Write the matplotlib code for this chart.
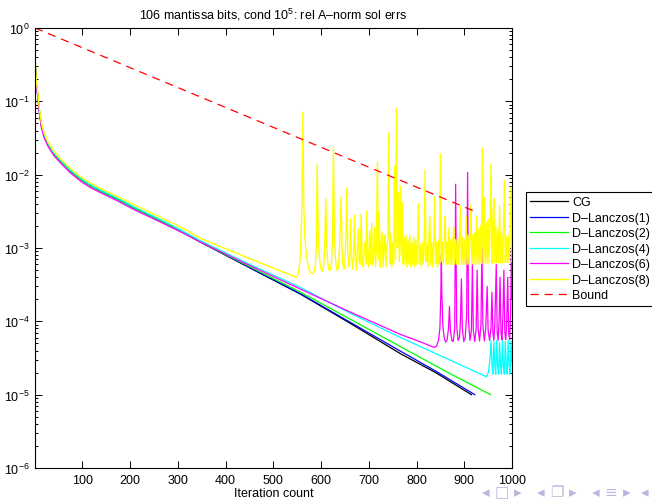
import matplotlib
matplotlib.use("Agg")
import matplotlib.pyplot as plt
from matplotlib.ticker import FixedLocator, NullFormatter, LogFormatterSciNotation

plt.rcParams['font.family'] = ['Liberation Sans', 'DejaVu Sans']
plt.rcParams['mathtext.fontset'] = 'custom'
plt.rcParams['mathtext.rm'] = 'Liberation Sans'
plt.rcParams['mathtext.it'] = 'Liberation Sans'
plt.rcParams['axes.linewidth'] = 0.8

# ---------------- data ----------------
early_it = [1, 2, 4, 7, 10, 14, 20, 28, 40, 56, 75, 98, 120, 140, 175, 209, 245, 279, 315, 348]
early_cg = [0.45, 0.28, 0.166, 0.12, 0.076, 0.048, 0.034, 0.026, 0.0195, 0.015, 0.0112,
            8.5e-3, 6.9e-3, 5.9e-3, 4.6e-3, 3.5e-3, 2.7e-3, 2.1e-3, 1.58e-3, 1.2e-3]
early_l4 = [0.42, 0.27, 0.165, 0.118, 0.077, 0.049, 0.035, 0.0267, 0.0201, 0.0154, 0.0116,
            8.8e-3, 7.1e-3, 6.1e-3, 4.75e-3, 3.62e-3, 2.8e-3, 2.18e-3, 1.64e-3, 1.25e-3]
early_l6 = [0.40, 0.26, 0.155, 0.112, 0.071, 0.045, 0.032, 0.0245, 0.0184, 0.0141, 0.0106,
            8.0e-3, 6.5e-3, 5.6e-3, 4.35e-3, 3.32e-3, 2.58e-3, 2.02e-3, 1.55e-3, 1.2e-3]
early_l8 = [0.50, 0.31, 0.18, 0.13, 0.083, 0.052, 0.037, 0.028, 0.021, 0.016, 0.0122,
            9.2e-3, 7.5e-3, 6.4e-3, 5.0e-3, 3.9e-3, 3.0e-3, 2.35e-3, 1.8e-3, 1.35e-3]

cg_it = early_it + [450, 557, 660, 767, 840, 915]
cg_err = early_cg + [5.4e-4, 2.35e-4, 9.5e-5, 3.6e-5, 2.0e-5, 1.0e-5]

l1_it = early_it + [450, 557, 660, 767, 840, 922]
l1_err = early_cg + [5.45e-4, 2.38e-4, 9.8e-5, 3.9e-5, 2.1e-5, 1.0e-5]

l2_it = early_it + [450, 557, 660, 767, 860, 955]
l2_err = early_cg + [5.6e-4, 2.5e-4, 1.08e-4, 4.5e-5, 2.1e-5, 1.0e-5]

l4_it = early_it + [450, 557, 660, 767, 947,
                    951, 954, 956, 958, 960, 962, 964, 966, 968, 970, 972, 974, 976,
                    978, 980, 982, 984, 986, 988, 990, 992, 994, 996, 998, 1000]
l4_err = early_l4 + [6.0e-4, 2.9e-4, 1.3e-4, 6.0e-5, 1.75e-5,
                     2.1e-5, 3.2e-5, 5.5e-5, 2.6e-5, 1.9e-5, 5.3e-5, 2.5e-5, 1.9e-5, 5.5e-5,
                     2.5e-5, 1.9e-5, 5.2e-5, 2.5e-5, 1.9e-5, 5.5e-5, 2.5e-5, 1.9e-5, 5.3e-5,
                     2.5e-5, 1.9e-5, 5.5e-5, 2.5e-5, 1.9e-5, 5.4e-5, 2.5e-5]

l6_it = early_it + [450, 557, 660, 767, 800, 830, 837,
                    842, 846, 849, 851, 852, 853, 855, 858, 861, 864, 867, 869, 871, 874,
                    877, 880, 882, 884, 887, 890, 892, 894, 896, 899, 902, 905, 907, 909,
                    912, 915, 917, 919, 922, 925, 927, 929, 932, 935, 937, 939, 942, 945,
                    948, 950, 953, 956, 958, 960, 962, 964, 967, 969, 971, 973, 975, 977,
                    979, 981, 983, 985, 987, 989, 991, 993, 995, 997, 999, 1000]
l6_err = early_l6 + [
    5.8e-4, 2.75e-4, 1.35e-4, 6.6e-5, 5.5e-5, 4.6e-5, 4.4e-5,
    4.6e-5, 5.5e-5, 8e-5, 2.5e-4, 8e-4, 2.5e-4, 9e-5, 6e-5, 5.2e-5, 5.5e-5, 8e-5, 1.6e-4,
    7.5e-5, 5.5e-5, 5.3e-5, 8e-5, 7.4e-3, 9e-5, 5.5e-5, 6e-5, 1e-4, 3.8e-4, 8e-5, 5.3e-5,
    6e-5, 1.2e-4, 1.07e-2, 1e-4, 5.5e-5, 7.5e-5, 6e-4, 7.5e-5, 5.3e-5, 8e-5, 5e-4, 8e-5,
    5.4e-5, 9e-5, 1e-3, 9e-5, 5.4e-5, 8e-5, 3e-4, 7.5e-5, 5.5e-5, 8e-5, 2.5e-4, 7e-5,
    5.5e-5, 9e-5, 6e-4, 7e-5, 5.5e-5, 1e-4, 4e-4, 7e-5, 5.6e-5, 1.2e-4, 5e-4, 7e-5,
    5.6e-5, 1e-4, 4e-4, 7e-5, 5.6e-5, 1.2e-4, 1.0e-3, 2e-4]

l8_tail_it = list(range(548, 1001, 2))
l8_tail_err = [
    4.0e-4, 4.1e-4, 4.4e-4, 5.2e-4, 7.0e-4, 1.3e-3, 4.0e-3, 7.1e-2, 3.5e-3, 1.5e-3,   # 548
    1.0e-3, 7.5e-4, 6.2e-4, 5.5e-4, 5.0e-4, 4.7e-4, 4.5e-4, 4.4e-4, 4.5e-4, 4.9e-4,   # 568
    5.8e-4, 9.0e-4, 1.4e-2, 1.8e-3, 8.5e-4, 6.2e-4, 5.2e-4, 4.8e-4, 5.0e-4, 6.2e-4,   # 588
    1.2e-3, 4.7e-3, 1.1e-3, 6.5e-4, 5.2e-4, 4.9e-4, 5.2e-4, 6.5e-4, 1.3e-3, 2.4e-2,   # 608
    1.5e-3, 7.5e-4, 5.5e-4, 4.9e-4, 5.3e-4, 7.5e-4, 1.8e-3, 5.0e-3, 1.0e-3, 6.0e-4,   # 628
    5.1e-4, 6.0e-4, 1.3e-3, 6.6e-3, 9.0e-4, 5.5e-4, 6.5e-4, 2.5e-3, 8.0e-4, 5.2e-4,   # 648
    7.0e-4, 2.8e-3, 7.0e-4, 5.0e-4, 9.0e-4, 1.8e-3, 6.5e-4, 6.0e-4, 2.9e-3, 6.5e-4,   # 668
    5.5e-4, 9.0e-4, 1.2e-3, 6.0e-4, 3.2e-3, 6.5e-4, 5.5e-4, 1.7e-3, 6.0e-4, 2.2e-3,   # 688
    6.0e-4, 8.0e-4, 1.9e-3, 5.5e-4, 1.0e-3, 1.5e-2, 7.0e-4, 3.1e-3, 5.5e-4, 1.1e-3,   # 708
    1.6e-3, 5.5e-4, 1.0e-3, 1.5e-3, 5.5e-4, 1.1e-3, 1.3e-3, 3.7e-2, 6.0e-4, 1.6e-3,   # 728
    5.5e-4, 1.2e-3, 6.0e-4, 1.3e-2, 7.0e-4, 8.0e-2, 1.0e-3, 5.7e-3, 6.5e-4, 7.0e-3,   # 748
    8.0e-4, 4.2e-3, 6.0e-4, 1.4e-3, 6.0e-4, 1.5e-3, 5.5e-4, 1.3e-3, 6.0e-4, 1.5e-3,   # 768
    5.5e-4, 1.2e-3, 6.0e-4, 1.4e-3, 5.5e-4, 1.3e-3, 6.0e-4, 1.2e-3, 4.0e-3, 6.0e-4,   # 788
    1.1e-3, 5.5e-4, 1.2e-3, 6.0e-4, 1.0e-3, 1.15e-2, 6.5e-4, 1.1e-3, 5.5e-4, 1.3e-3,  # 808
    2.7e-3, 6.0e-4, 1.2e-3, 5.5e-4, 1.1e-3, 5.0e-3, 6.0e-4, 1.2e-3, 5.5e-4, 1.3e-3,   # 828
    6.0e-4, 1.9e-2, 6.5e-4, 1.2e-3, 6.0e-4, 1.4e-3, 2.7e-3, 6.0e-4, 1.2e-3, 6.0e-4,   # 848
    1.9e-3, 6.0e-4, 1.3e-3, 6.0e-4, 1.2e-3, 1.9e-3, 6.0e-4, 1.3e-3, 6.0e-4, 1.4e-3,   # 868
    6.0e-4, 1.3e-3, 3.7e-3, 6.0e-4, 1.4e-3, 6.0e-4, 1.3e-3, 6.0e-4, 2.7e-3, 6.0e-4,   # 888
    1.5e-3, 6.0e-4, 1.4e-3, 3.9e-3, 6.0e-4, 1.5e-3, 6.0e-4, 1.6e-3, 6.0e-4, 2.7e-3,   # 908
    6.0e-4, 1.8e-3, 6.0e-4, 2.0e-3, 6.2e-4, 2.3e-2, 6.2e-4, 4.9e-3, 6.2e-4, 2.2e-3,   # 928
    6.2e-4, 2.5e-3, 6.2e-4, 2.0e-3, 1.4e-2, 6.2e-4, 2.2e-3, 4.7e-3, 6.3e-4, 2.0e-3,   # 948
    6.3e-4, 1.8e-3, 6.3e-4, 3.8e-3, 6.3e-4, 1.6e-3, 6.3e-4, 1.5e-3, 8.3e-3, 6.3e-4,   # 968
    1.4e-3, 6.3e-4, 1.5e-3, 6.3e-4, 1.4e-3, 6.8e-3, 6.5e-4,                           # 988
]
l8_it = early_it + [450] + l8_tail_it
l8_err = early_l8 + [7.2e-4] + l8_tail_err

bound_it = [1, 920]
bound_err = [1.0, 3.2e-3]

labels = ['CG', 'D–Lanczos(1)', 'D–Lanczos(2)', 'D–Lanczos(4)',
          'D–Lanczos(6)', 'D–Lanczos(8)', 'Bound']
xticks = [100, 200, 300, 400, 500, 600, 700, 800, 900, 1000]
yticks = [1e-6, 1e-5, 1e-4, 1e-3, 1e-2, 1e-1, 1e0]
yminor = [m * 10.0 ** e for e in range(-6, 0) for m in range(2, 10)]
nav_symbols = ['◂', '□', '▸', '◂', '❐', '▸', '◂', '≡', '▸', '◂']

# ---------------- figure ----------------
fig = plt.figure(figsize=(6.52, 5.02), dpi=100)
ax = fig.add_axes([35 / 652, 1 - 469 / 502, 477 / 652, 440 / 502])

lw = 0.9
ax.semilogy(cg_it, cg_err, color='black', lw=lw, label=labels[0])
ax.semilogy(l1_it, l1_err, color='#0000ff', lw=lw, label=labels[1])
ax.semilogy(l2_it, l2_err, color='#00ff00', lw=lw, label=labels[2])
ax.semilogy(l4_it, l4_err, color='#00ffff', lw=lw, label=labels[3])
ax.semilogy(l6_it, l6_err, color='#ff00ff', lw=lw, label=labels[4])
ax.semilogy(l8_it, l8_err, color='#ffff00', lw=1.0, label=labels[5])
ax.semilogy(bound_it, bound_err, color='#ff0000', lw=lw, dashes=(6.5, 4.8),
            label=labels[6])

ax.set_xlim(1, 1000)
ax.set_ylim(1e-6, 1e0)
ax.xaxis.set_major_locator(FixedLocator(xticks))
ax.yaxis.set_major_locator(FixedLocator(yticks))
ax.yaxis.set_major_formatter(LogFormatterSciNotation())
ax.yaxis.set_minor_locator(FixedLocator(yminor))
ax.yaxis.set_minor_formatter(NullFormatter())
ax.tick_params(which='both', direction='in', top=True, right=True, labelsize=9,
               width=0.7, colors='black')
ax.tick_params(which='major', length=5, pad=4)
ax.tick_params(which='minor', length=2.5)

ax.set_title('106 mantissa bits, cond 10$^5$: rel A–norm sol errs', fontsize=9, pad=7)
ax.set_xlabel('Iteration count', fontsize=9, labelpad=1)

handles, labs = ax.get_legend_handles_labels()
leg = fig.legend(handles, labs, loc='upper left', bbox_to_anchor=(526 / 652, 1 - 193 / 502),
                 fontsize=9, frameon=True, fancybox=False, edgecolor='black',
                 framealpha=1, handlelength=3.0, handletextpad=0.35, labelspacing=0.28,
                 borderpad=0.35, borderaxespad=0)
leg.get_frame().set_linewidth(0.8)

nav_x = [486, 502, 518, 541, 557, 573, 596, 611, 627, 645]
for sx, sym in zip(nav_x, nav_symbols):
    fig.text(sx / 652, 1 - 493 / 502, sym, fontsize=11, color='#b8b8dc',
             va='center', ha='center', family=['DejaVu Sans'])

fig.savefig('out.png', dpi=100)
